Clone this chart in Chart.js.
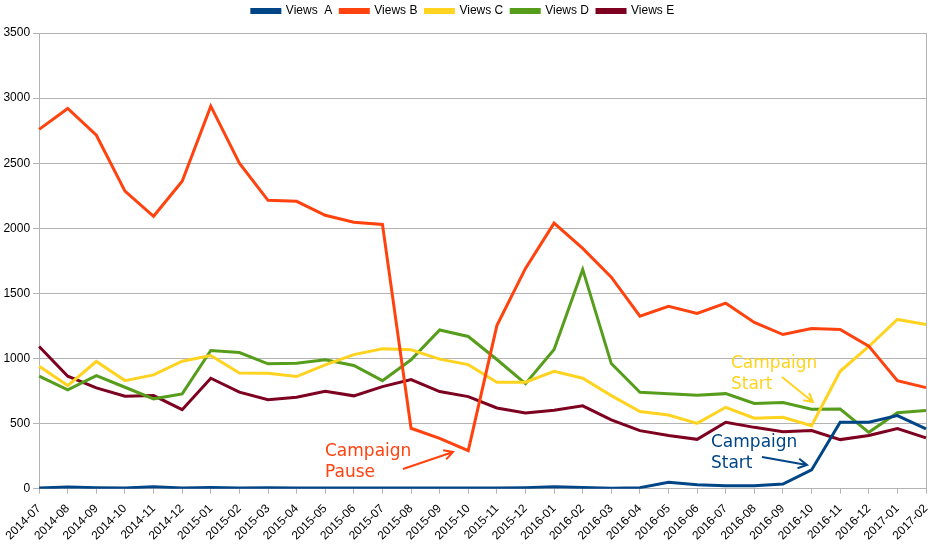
<!DOCTYPE html>
<html>
<head>
<meta charset="utf-8">
<script src="https://cdn.jsdelivr.net/npm/chart.js@4/dist/chart.umd.min.js"></script>
<style>
  html, body { margin: 0; padding: 0; background: #fff; }
  #wrap { width: 930px; height: 549px; }
</style>
</head>
<body>
<div id="wrap"><canvas id="chart" width="930" height="549"></canvas></div>
<script>
const months = ['2014-07','2014-08','2014-09','2014-10','2014-11','2014-12',
  '2015-01','2015-02','2015-03','2015-04','2015-05','2015-06','2015-07','2015-08','2015-09','2015-10','2015-11','2015-12',
  '2016-01','2016-02','2016-03','2016-04','2016-05','2016-06','2016-07','2016-08','2016-09','2016-10','2016-11','2016-12',
  '2017-01','2017-02'];

const viewsA = [5,12,8,5,15,5,10,5,8,5,5,5,5,5,5,5,5,8,15,10,3,8,49,31,23,23,36,144,510,510,561,459];
const viewsB = [2760,2920,2715,2285,2092,2361,2938,2500,2215,2207,2100,2046,2030,464,387,292,1253,1692,2040,1846,1625,1325,1400,1346,1425,1277,1184,1230,1223,1095,830,776];
const viewsC = [940,792,977,830,874,979,1023,889,887,861,951,1030,1074,1067,995,953,818,818,902,848,715,592,566,502,625,541,548,484,902,1092,1300,1261];
const viewsD = [864,759,869,779,690,728,1061,1046,959,964,990,946,830,990,1219,1169,992,807,1069,1684,961,741,730,718,730,654,661,610,612,433,584,600];
const viewsE = [1092,864,774,710,715,607,848,741,684,702,748,713,784,838,746,707,620,582,602,636,528,446,408,379,510,471,438,446,377,408,461,390];

const yTicks = [0,500,1000,1500,2000,2500,3000,3500];

const colA = '#004586', colB = '#ff420e', colC = '#ffd320', colD = '#579d1c', colE = '#7e0021';
const gridCol = '#b3b3b3';

function series(label, data, color) {
  return { label, data, borderColor: color, backgroundColor: color, borderWidth: 3,
    pointRadius: 0, pointHoverRadius: 0, tension: 0, fill: false };
}

// hand-drawn style notes on top of the chart
const notes = [
  { lines: ['Campaign', 'Pause'], color: colB, x: 325, y: 456, arrow: [403, 469, 453, 452] },
  { lines: ['Campaign', 'Start'], color: colC, x: 731, y: 368, arrow: [782, 377, 813, 402] },
  { lines: ['Campaign', 'Start'], color: colA, x: 711, y: 447, arrow: [762, 457, 807, 465] }
];

const notesPlugin = {
  id: 'notes',
  afterDatasetsDraw(chart) {
    const ctx = chart.ctx;
    ctx.save();
    ctx.font = '17px "DejaVu Sans"';
    ctx.textBaseline = 'alphabetic';
    notes.forEach(n => {
      ctx.fillStyle = n.color;
      n.lines.forEach((t, i) => ctx.fillText(t, n.x, n.y + i * 21));
      const [x1, y1, x2, y2] = n.arrow;
      ctx.strokeStyle = n.color;
      ctx.lineWidth = 2;
      ctx.beginPath();
      ctx.moveTo(x1, y1);
      ctx.lineTo(x2, y2);
      const a = Math.atan2(y2 - y1, x2 - x1);
      ctx.moveTo(x2 - 10 * Math.cos(a - 0.5), y2 - 10 * Math.sin(a - 0.5));
      ctx.lineTo(x2, y2);
      ctx.lineTo(x2 - 10 * Math.cos(a + 0.5), y2 - 10 * Math.sin(a + 0.5));
      ctx.stroke();
    });
    ctx.restore();
  }
};

// a bit more room under the legend
const legendGap = {
  id: 'legendGap',
  beforeInit(chart) {
    const fit = chart.legend.fit;
    chart.legend.fit = function () {
      fit.bind(chart.legend)();
      this.height += 6;
    };
  }
};

Chart.defaults.font.family = '"Liberation Sans", Arial, sans-serif';
Chart.defaults.color = '#000';

new Chart(document.getElementById('chart'), {
  type: 'line',
  data: {
    labels: months,
    datasets: [
      series('Views  A', viewsA, colA),
      series('Views B', viewsB, colB),
      series('Views C', viewsC, colC),
      series('Views D', viewsD, colD),
      series('Views E', viewsE, colE)
    ]
  },
  options: {
    responsive: false,
    animation: false,
    layout: { padding: { left: 0, right: 4, top: -3, bottom: -2 } },
    plugins: {
      legend: {
        position: 'top',
        labels: { boxWidth: 28, boxHeight: 3, padding: 8, font: { size: 12 } }
      },
      tooltip: { enabled: false }
    },
    scales: {
      x: {
        offset: false,
        afterFit: axis => { axis.paddingRight = 0; },
        grid: {
          color: ctx => ctx.index === months.length - 1 ? gridCol : 'rgba(0,0,0,0)',
          tickColor: gridCol,
          tickLength: 5,
          drawOnChartArea: true
        },
        border: { color: gridCol },
        ticks: { autoSkip: false, maxRotation: 45, minRotation: 45, font: { size: 12 }, padding: 8 }
      },
      y: {
        min: 0,
        max: 3500,
        afterBuildTicks: axis => { axis.ticks = yTicks.map(v => ({ value: v })); },
        grid: { color: gridCol, tickColor: gridCol, tickLength: 6 },
        border: { color: gridCol },
        ticks: { font: { size: 12 }, padding: 3, callback: v => String(v) }
      }
    }
  },
  plugins: [notesPlugin, legendGap]
});
</script>
</body>
</html>
